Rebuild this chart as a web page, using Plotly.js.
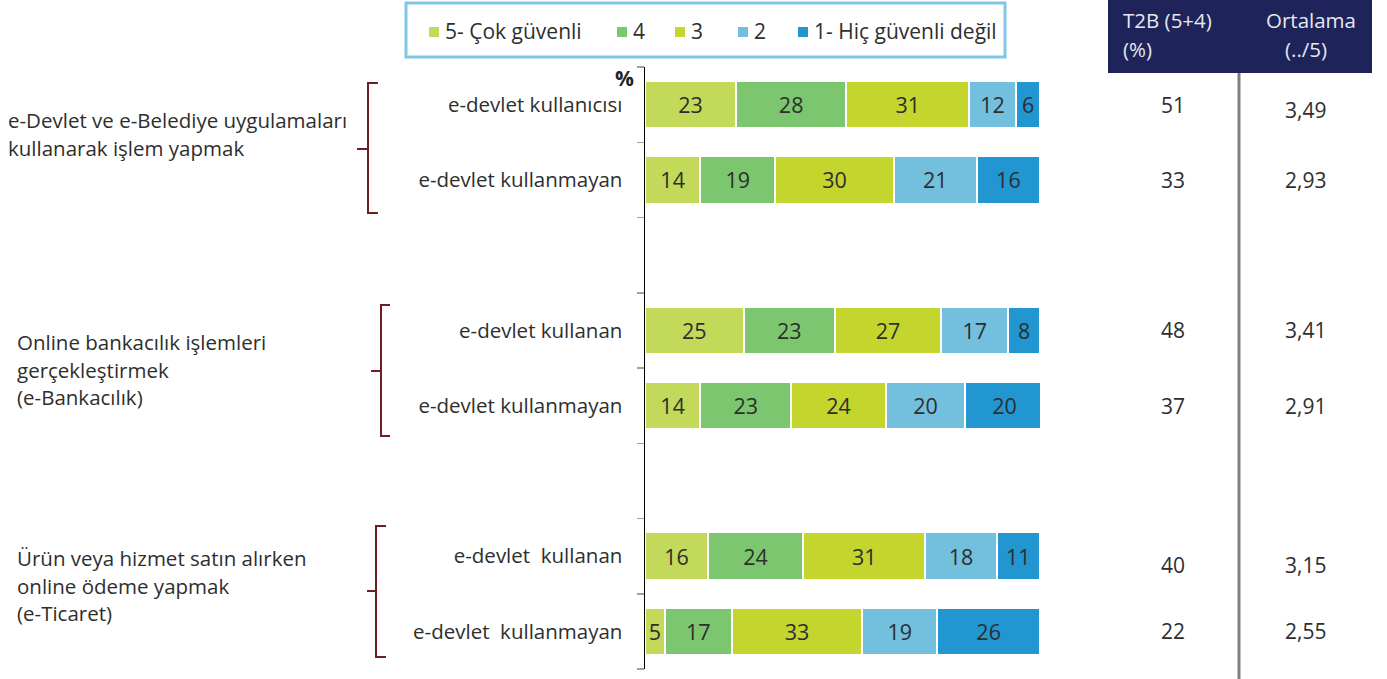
<!DOCTYPE html>
<html>
<head>
<meta charset="utf-8">
<script src="https://cdn.plot.ly/plotly-3.0.1.min.js"></script>
<style>html,body{margin:0;padding:0;background:#fff;}#chart{width:1387px;height:679px;}</style>
</head>
<body>
<div id="chart"></div>
<script>
// ---- data ----
var rowLabels = ["e-devlet kullanıcısı", "e-devlet kullanmayan", "e-devlet kullanan", "e-devlet kullanmayan", "e-devlet  kullanan", "e-devlet  kullanmayan"];
var rowSlots = [0, 1, 3, 4, 6, 7];
var seriesNames = ["5- Çok güvenli", "4", "3", "2", "1- Hiç güvenli değil"];
var seriesColors = ["#C3D95A", "#7BC66E", "#C4D52E", "#72BFDE", "#2196D0"];
var s5 = [23, 14, 25, 14, 16, 5];
var s4 = [28, 19, 23, 23, 24, 17];
var s3 = [31, 30, 27, 24, 31, 33];
var s2 = [12, 21, 17, 20, 18, 19];
var s1 = [6, 16, 8, 20, 11, 26];
var t2b = ["51", "33", "48", "37", "40", "22"];
var ortalama = ["3,49", "2,93", "3,41", "2,91", "3,15", "2,55"];
var groupLabels = [
  ["e-Devlet ve e-Belediye uygulamaları", "kullanarak işlem yapmak"],
  ["Online bankacılık işlemleri", "gerçekleştirmek", "(e-Bankacılık)"],
  ["Ürün veya hizmet satın alırken", "online ödeme yapmak", "(e-Ticaret)"]
];
var tableHeaders = [["T2B (5+4)", "(%)"], ["Ortalama", "(../5)"]];

// ---- layout helpers ----
var W = 1387, H = 679;
var L = 645, R = 1040, T = 67, B = 669;
function px(x) { return (x - L) / (R - L); }
function py(y) { return (B - y) / (B - T); }
var FONT = "Open Sans, Noto Sans, sans-serif";
var TXT = "#2E2E2E";

var allSeries = [s5, s4, s3, s2, s1];
var traces = allSeries.map(function (vals, i) {
  return {
    type: "bar", orientation: "h",
    name: seriesNames[i],
    x: vals, y: rowSlots,
    width: 0.63,
    marker: { color: seriesColors[i], line: { color: "#ffffff", width: 2 } },
    text: vals.map(String),
    textposition: "inside", insidetextanchor: "middle",
    constraintext: "none",
    textfont: { family: FONT, size: 21.5, color: TXT },
    hoverinfo: "name+x",
    showlegend: false
  };
});

var shapes = [], annotations = [];

// legend (manual)
shapes.push({ type: "rect", xref: "paper", yref: "paper", x0: px(406), x1: px(1005), y0: py(57), y1: py(3),
  line: { color: "#7EC8E3", width: 3 }, fillcolor: "rgba(0,0,0,0)" });
var legX = [429, 617, 675, 738, 798];
seriesNames.forEach(function (n, i) {
  shapes.push({ type: "rect", xref: "paper", yref: "paper", x0: px(legX[i]), x1: px(legX[i] + 10), y0: py(37), y1: py(27),
    line: { width: 0 }, fillcolor: seriesColors[i] });
  annotations.push({ xref: "paper", yref: "paper", x: px(legX[i] + 14), y: py(31), xanchor: "left", yanchor: "middle",
    text: n, showarrow: false, font: { family: FONT, size: 21, color: TXT } });
});

// % label
annotations.push({ xref: "paper", yref: "paper", x: px(636), y: py(78), xanchor: "right", yanchor: "middle",
  text: "<b>%</b>", showarrow: false, font: { family: FONT, size: 21, color: "#222" } });

// group labels and brackets
var groupLabelX = [6, 15, 15];
var groupLabelY0 = [120, 342, 558];
var brackets = [
  { x: 368, top: 83, bot: 213, mid: 149, serif: 378, tip: 357 },
  { x: 381, top: 305, bot: 436, mid: 371, serif: 390, tip: 371 },
  { x: 376, top: 526, bot: 657, mid: 591, serif: 386, tip: 367 }
];
groupLabels.forEach(function (lines, g) {
  lines.forEach(function (ln, k) {
    annotations.push({ xref: "paper", yref: "paper", x: px(groupLabelX[g]), y: py(groupLabelY0[g] + k * 27.5),
      xanchor: "left", yanchor: "middle", text: ln, showarrow: false, font: { family: FONT, size: 20.5, color: TXT } });
  });
  var b = brackets[g];
  var path = "M" + px(b.serif) + "," + py(b.top) + " L" + px(b.x) + "," + py(b.top) + " L" + px(b.x) + "," + py(b.bot) +
    " L" + px(b.serif) + "," + py(b.bot) + " M" + px(b.tip) + "," + py(b.mid) + " L" + px(b.x) + "," + py(b.mid);
  shapes.push({ type: "path", xref: "paper", yref: "paper", path: path, line: { color: "#6E1F24", width: 2 } });
});

// table header
shapes.push({ type: "rect", xref: "paper", yref: "paper", x0: px(1108), x1: px(1372), y0: py(73), y1: py(0),
  line: { width: 0 }, fillcolor: "#1E2459" });
shapes.push({ type: "line", xref: "paper", yref: "paper", x0: px(1239), x1: px(1239), y0: py(73), y1: py(679),
  line: { color: "#7F7F7F", width: 3 } });
var HF = { family: FONT, size: 20.5, color: "#E6E7F0" };
annotations.push({ xref: "paper", yref: "paper", x: px(1121), y: py(20), xanchor: "left", yanchor: "middle",
  text: tableHeaders[0][0], showarrow: false, font: HF });
annotations.push({ xref: "paper", yref: "paper", x: px(1121), y: py(49), xanchor: "left", yanchor: "middle",
  text: tableHeaders[0][1], showarrow: false, font: HF });
annotations.push({ xref: "paper", yref: "paper", x: px(1311), y: py(20), xanchor: "center", yanchor: "middle",
  text: tableHeaders[1][0], showarrow: false, font: HF });
annotations.push({ xref: "paper", yref: "paper", x: px(1306), y: py(49), xanchor: "center", yanchor: "middle",
  text: tableHeaders[1][1], showarrow: false, font: HF });

// table values
var valShift = [0, 0, 0, 0, -9, 0];
rowSlots.forEach(function (slot, i) {
  annotations.push({ xref: "paper", yref: "y", x: px(1173), y: slot, yshift: valShift[i], xanchor: "center", yanchor: "middle",
    text: t2b[i], showarrow: false, font: { family: FONT, size: 21, color: TXT } });
  annotations.push({ xref: "paper", yref: "y", x: px(1305), y: slot, yshift: valShift[i] - (i === 0 ? 5 : 0), xanchor: "center", yanchor: "middle",
    text: ortalama[i], showarrow: false, font: { family: FONT, size: 21, color: TXT } });
});

var layout = {
  width: W, height: H,
  margin: { l: L, r: W - R, t: T, b: H - B, pad: 0 },
  paper_bgcolor: "#ffffff", plot_bgcolor: "#ffffff",
  barmode: "stack", bargap: 0,
  showlegend: false,
  xaxis: { range: [0, 100], visible: false, fixedrange: true },
  yaxis: {
    range: [7.5, -0.5], tickmode: "array", tickvals: rowSlots, ticktext: rowLabels,
    ticks: "", showgrid: false, zeroline: false,
    showline: true, linecolor: "#000000", linewidth: 1.5,
    ticklabelstandoff: 17,
    tickfont: { family: FONT, size: 20.5, color: TXT },
    minor: { tickmode: "array", tickvals: [-0.5, 0.5, 1.5, 2.5, 3.5, 4.5, 5.5, 6.5, 7.5], ticks: "outside", ticklen: 7, tickcolor: "#A0A0A0", tickwidth: 1.5, showgrid: false },
    fixedrange: true
  },
  shapes: shapes,
  annotations: annotations
};

Plotly.newPlot("chart", traces, layout, { displayModeBar: false, staticPlot: true });
</script>
</body>
</html>
